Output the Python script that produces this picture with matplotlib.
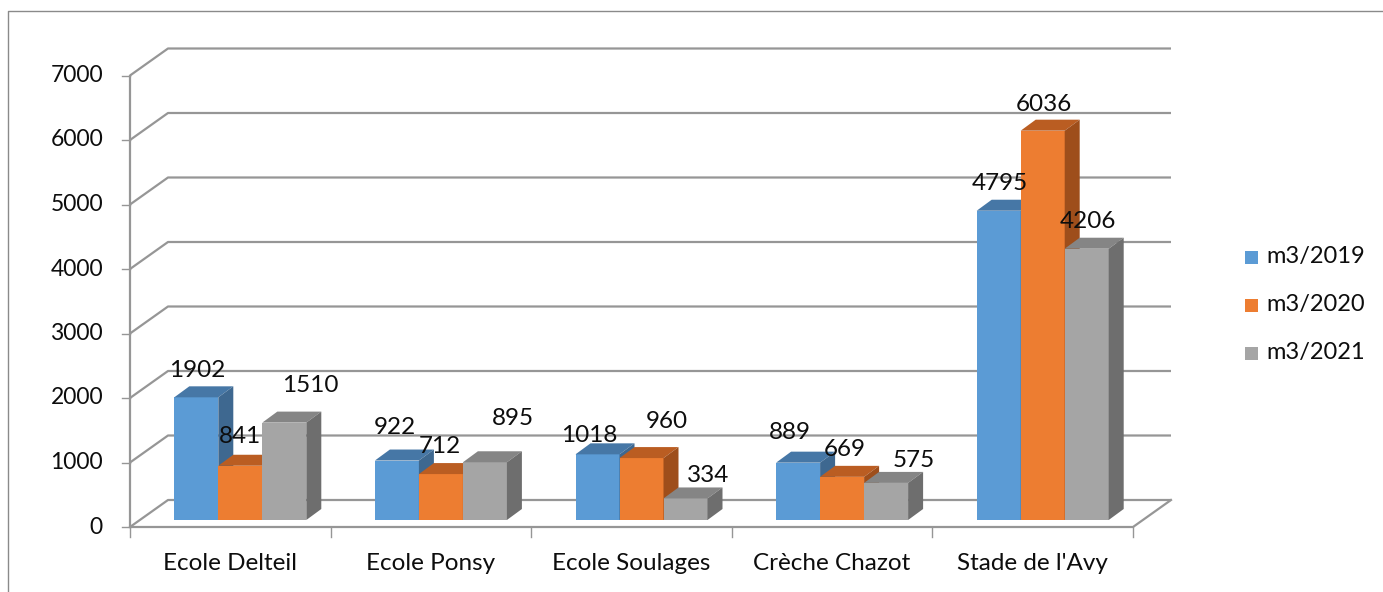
import matplotlib
matplotlib.use("Agg")
import matplotlib.pyplot as plt
from matplotlib.patches import Polygon, Rectangle
import numpy as np

# ---- data ----
categories = ["Ecole Delteil", "Ecole Ponsy", "Ecole Soulages", "Crèche Chazot", "Stade de l'Avy"]
series_names = ["m3/2019", "m3/2020", "m3/2021"]
v2019 = [1902, 922, 1018, 889, 4795]
v2020 = [841, 712, 960, 669, 6036]
v2021 = [1510, 895, 334, 575, 4206]
yticks = [0, 1000, 2000, 3000, 4000, 5000, 6000, 7000]

# ---- style ----
front_cols = ["#5B9BD5", "#ED7D31", "#A5A5A5"]
top_cols = ["#4677A6", "#BA5D22", "#858585"]
side_cols = ["#3E6890", "#9E4E1B", "#6E6E6E"]
# label offsets (px) relative to top-centre of front face
label_off = [
    [(1, -27), (-2, -33), (-8, -19), (-8, -30), (1, -27)],
    [(0, -29), (-1, -28), (25, -37), (3, -27), (1, -26)],
    [(26, -37), (28, -44), (23, -23), (28, -22), (1, -27)],
]

W, H = 1383, 592
fig = plt.figure(figsize=(W / 100, H / 100), dpi=100)
ax = fig.add_axes([0, 0, 1, 1])
ax.set_axis_off()

X0, X1, Y0 = 130, 1133, 527
ux = (X1 - X0) / len(categories)       # px per category unit
uy = 64.5 / 1000                         # px per value unit
ax.set_xlim(-0.5 - X0 / ux, -0.5 + (W - X0) / ux)
ax.set_ylim(-(H - Y0) / uy, Y0 / uy)

def pdx(px):
    return px / ux

def pdy(px):
    return px / uy

def px2d(x, y):
    return (-0.5 + (x - X0) / ux, (Y0 - y) / uy)

BACK = (pdx(38), pdy(27))
BOFF = (pdx(10), pdy(7))
DEP = (pdx(15), pdy(11))
bw = pdx(44)

gc = "#969696"
tc = "#0d0d0d"
n = len(categories)
xl, xr = -0.5, n - 0.5
# gridlines on back wall + side wall
for t in yticks:
    ax.plot([xl, xl + BACK[0], xr + BACK[0]], [t, t + BACK[1], t + BACK[1]],
            color=gc, lw=1.6, zorder=1, solid_capstyle="butt")
    ax.plot([xl - pdx(8), xl], [t, t], color=gc, lw=1.0, zorder=1)
    ax.text(xl - pdx(27), t, str(t), ha="right", va="center",
            fontsize=16.5, family="Lato", color=tc)
# front vertical axis
ax.plot([xl, xl], [0, yticks[-1]], color=gc, lw=1.6, zorder=1)
# floor
ax.plot([xl, xr, xr + BACK[0]], [0, 0, BACK[1]], color=gc, lw=1.6, zorder=1)
for i in range(n + 1):
    ax.plot([xl + i, xl + i], [0, -pdy(10)], color=gc, lw=1.0, zorder=1)
for i, c in enumerate(categories):
    ax.text(i, -pdy(36), c, ha="center", va="center", fontsize=17.5,
            family="Lato", color=tc)

series = [v2019, v2020, v2021]
x = np.arange(n)
z = 3
for i in range(n):
    for s, vals in enumerate(series):
        xc = x[i] + (s - 1) * bw + BOFF[0]
        v = vals[i]
        x0, x1 = xc - bw / 2, xc + bw / 2
        b = BOFF[1]
        ax.bar([xc], [v], width=bw, bottom=b, color=front_cols[s], zorder=z, linewidth=0)
        top = [(x0, b + v), (x1, b + v), (x1 + DEP[0], b + v + DEP[1]), (x0 + DEP[0], b + v + DEP[1])]
        ax.add_patch(Polygon(top, closed=True, facecolor=top_cols[s], edgecolor="none", zorder=z))
        side = [(x1, b), (x1 + DEP[0], b + DEP[1]), (x1 + DEP[0], b + v + DEP[1]), (x1, b + v)]
        ax.add_patch(Polygon(side, closed=True, facecolor=side_cols[s], edgecolor="none", zorder=z))
        z += 1

for s, vals in enumerate(series):
    for i in range(n):
        xc = x[i] + (s - 1) * bw + BOFF[0]
        dx, dy = label_off[s][i]
        ax.text(xc + pdx(dx), vals[i] + BOFF[1] - pdy(dy), str(vals[i]),
                ha="center", va="center", fontsize=17.5, family="Lato",
                color=tc, zorder=50)

# legend
for s, name in enumerate(series_names):
    cy = 257 + 48 * s
    lx, ly = px2d(1245, cy + 6.5)
    ax.add_patch(Rectangle((lx, ly), pdx(13), pdy(13), facecolor=front_cols[s],
                           edgecolor="none"))
    tx, ty = px2d(1266, cy)
    ax.text(tx, ty, name, ha="left", va="center", fontsize=17, family="Lato",
            color=tc)

# chart border
bx, by = px2d(8, 11)
_, byb = px2d(8, H + 5)
bxr, _ = px2d(W + 5, 11)
ax.plot([bx, bx, bxr], [byb, by, by], color="#8a8a8a", lw=1.0, zorder=0)

fig.savefig("out.png", dpi=100)
